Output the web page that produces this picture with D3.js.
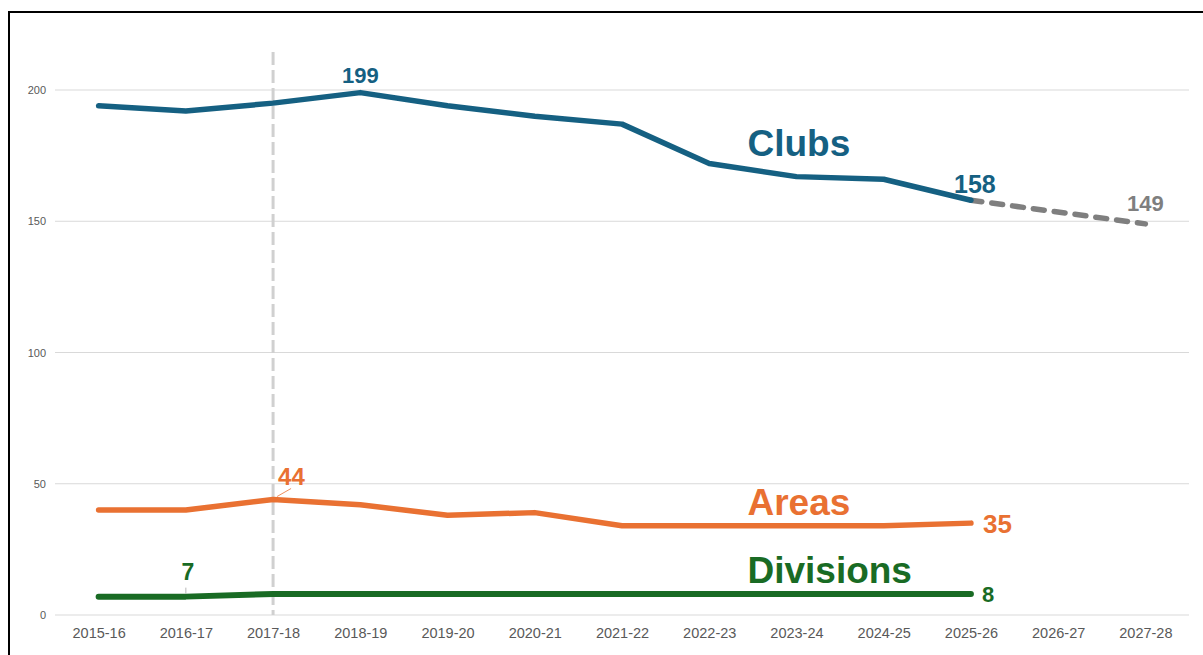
<!DOCTYPE html>
<html>
<head>
<meta charset="utf-8">
<script src="https://cdn.jsdelivr.net/npm/d3@7"></script>
<style>
  html, body { margin: 0; padding: 0; background: #fff; }
  svg { display: block; }
  text { font-family: "Liberation Sans", Arial, sans-serif; }
</style>
</head>
<body>
<svg id="chart" width="1203" height="655"></svg>
<script>
// data
const seasons = ['2015-16', '2016-17', '2017-18', '2018-19', '2019-20', '2020-21', '2021-22',
  '2022-23', '2023-24', '2024-25', '2025-26', '2026-27', '2027-28'];
const clubs = [194, 192, 195, 199, 194, 190, 187, 172, 167, 166, 158, null, null];
const clubsProjection = [null, null, null, null, null, null, null, null, null, null, 158, null, 149];
const areas = [40, 40, 44, 42, 38, 39, 34, 34, 34, 34, 35, null, null];
const divisions = [7, 7, 8, 8, 8, 8, 8, 8, 8, 8, 8, null, null];
const yTicks = [0, 50, 100, 150, 200];
const markerSeason = '2017-18';

const svg = d3.select('#chart');

// frame
svg.append('rect')
  .attr('x', 9).attr('y', 12)
  .attr('width', 1230).attr('height', 700)
  .attr('fill', 'none').attr('stroke', '#000').attr('stroke-width', 2);

const x = d3.scalePoint().domain(seasons).range([55, 1189]).padding(0.5);
const y = d3.scaleLinear().domain([0, 200]).range([615, 90]);

// gridlines
svg.append('g')
  .selectAll('line')
  .data(yTicks)
  .enter().append('line')
  .attr('x1', 55).attr('x2', 1189)
  .attr('y1', d => y(d)).attr('y2', d => y(d))
  .attr('stroke', '#d9d9d9').attr('stroke-width', 1);

// y axis labels
const yAxis = svg.append('g')
  .attr('transform', 'translate(46,0)')
  .call(d3.axisLeft(y).tickValues(yTicks).tickSize(0).tickPadding(0));
yAxis.select('.domain').remove();
yAxis.selectAll('text')
  .attr('font-family', '"Liberation Sans", Arial, sans-serif')
  .attr('font-size', 11).attr('fill', '#595959');

// x axis labels
const xAxis = svg.append('g')
  .attr('transform', 'translate(0,' + y(0) + ')')
  .call(d3.axisBottom(x).tickSize(0).tickPadding(13));
xAxis.select('.domain').remove();
xAxis.selectAll('text')
  .attr('font-family', '"Liberation Sans", Arial, sans-serif')
  .attr('font-size', 14.5).attr('fill', '#595959');

// vertical dashed marker
svg.append('line')
  .attr('x1', x(markerSeason)).attr('x2', x(markerSeason))
  .attr('y1', 52).attr('y2', y(0))
  .attr('stroke', '#d0d0d0').attr('stroke-width', 3)
  .attr('stroke-dasharray', '13 5');

function drawLine(values, color, width, dash) {
  const pts = values.map((v, i) => v == null ? null : [x(seasons[i]), y(v)]).filter(p => p);
  svg.append('path')
    .attr('d', d3.line()(pts))
    .attr('fill', 'none')
    .attr('stroke', color)
    .attr('stroke-width', width)
    .attr('stroke-linecap', 'round')
    .attr('stroke-linejoin', 'round')
    .attr('stroke-dasharray', dash || null);
}

drawLine(clubsProjection, '#7f7f7f', 5.5, '11 10');
drawLine(clubs, '#156082', 5.5);
drawLine(areas, '#E97132', 5.5);
drawLine(divisions, '#196B24', 6);

// leader lines
svg.append('line')
  .attr('x1', x('2017-18') + 4).attr('y1', y(44) - 3)
  .attr('x2', x('2017-18') + 18).attr('y2', y(44) - 11)
  .attr('stroke', '#E97132').attr('stroke-width', 0.8);
svg.append('line')
  .attr('x1', x('2016-17')).attr('y1', y(7) - 3)
  .attr('x2', x('2016-17')).attr('y2', y(7) - 9)
  .attr('stroke', '#a6a6a6').attr('stroke-width', 0.8);

function label(txt, px, py, color, size, anchor) {
  svg.append('text')
    .attr('x', px).attr('y', py)
    .attr('fill', color)
    .attr('font-size', size)
    .attr('font-weight', 'bold')
    .attr('text-anchor', anchor || 'middle')
    .text(txt);
}

// value labels
label('199', x('2018-19'), y(199) - 10, '#156082', 22);
label('158', x('2025-26') + 4, y(158) - 7, '#156082', 25);
label('149', x('2027-28'), y(149) - 13, '#7f7f7f', 22);
label('44', x('2017-18') + 5, y(44) - 15, '#E97132', 24, 'start');
label('35', x('2025-26') + 12, y(35) + 10, '#E97132', 26, 'start');
label('7', x('2016-17') + 2, y(7) - 17, '#196B24', 23);
label('8', x('2025-26') + 11, y(8) + 8, '#196B24', 22, 'start');

// series names
const nameX = x('2023-24') - 49;
label('Clubs', nameX, 156, '#156082', 37, 'start');
label('Areas', nameX, 515, '#E97132', 37, 'start');
label('Divisions', nameX, 583, '#196B24', 37, 'start');
</script>
</body>
</html>
